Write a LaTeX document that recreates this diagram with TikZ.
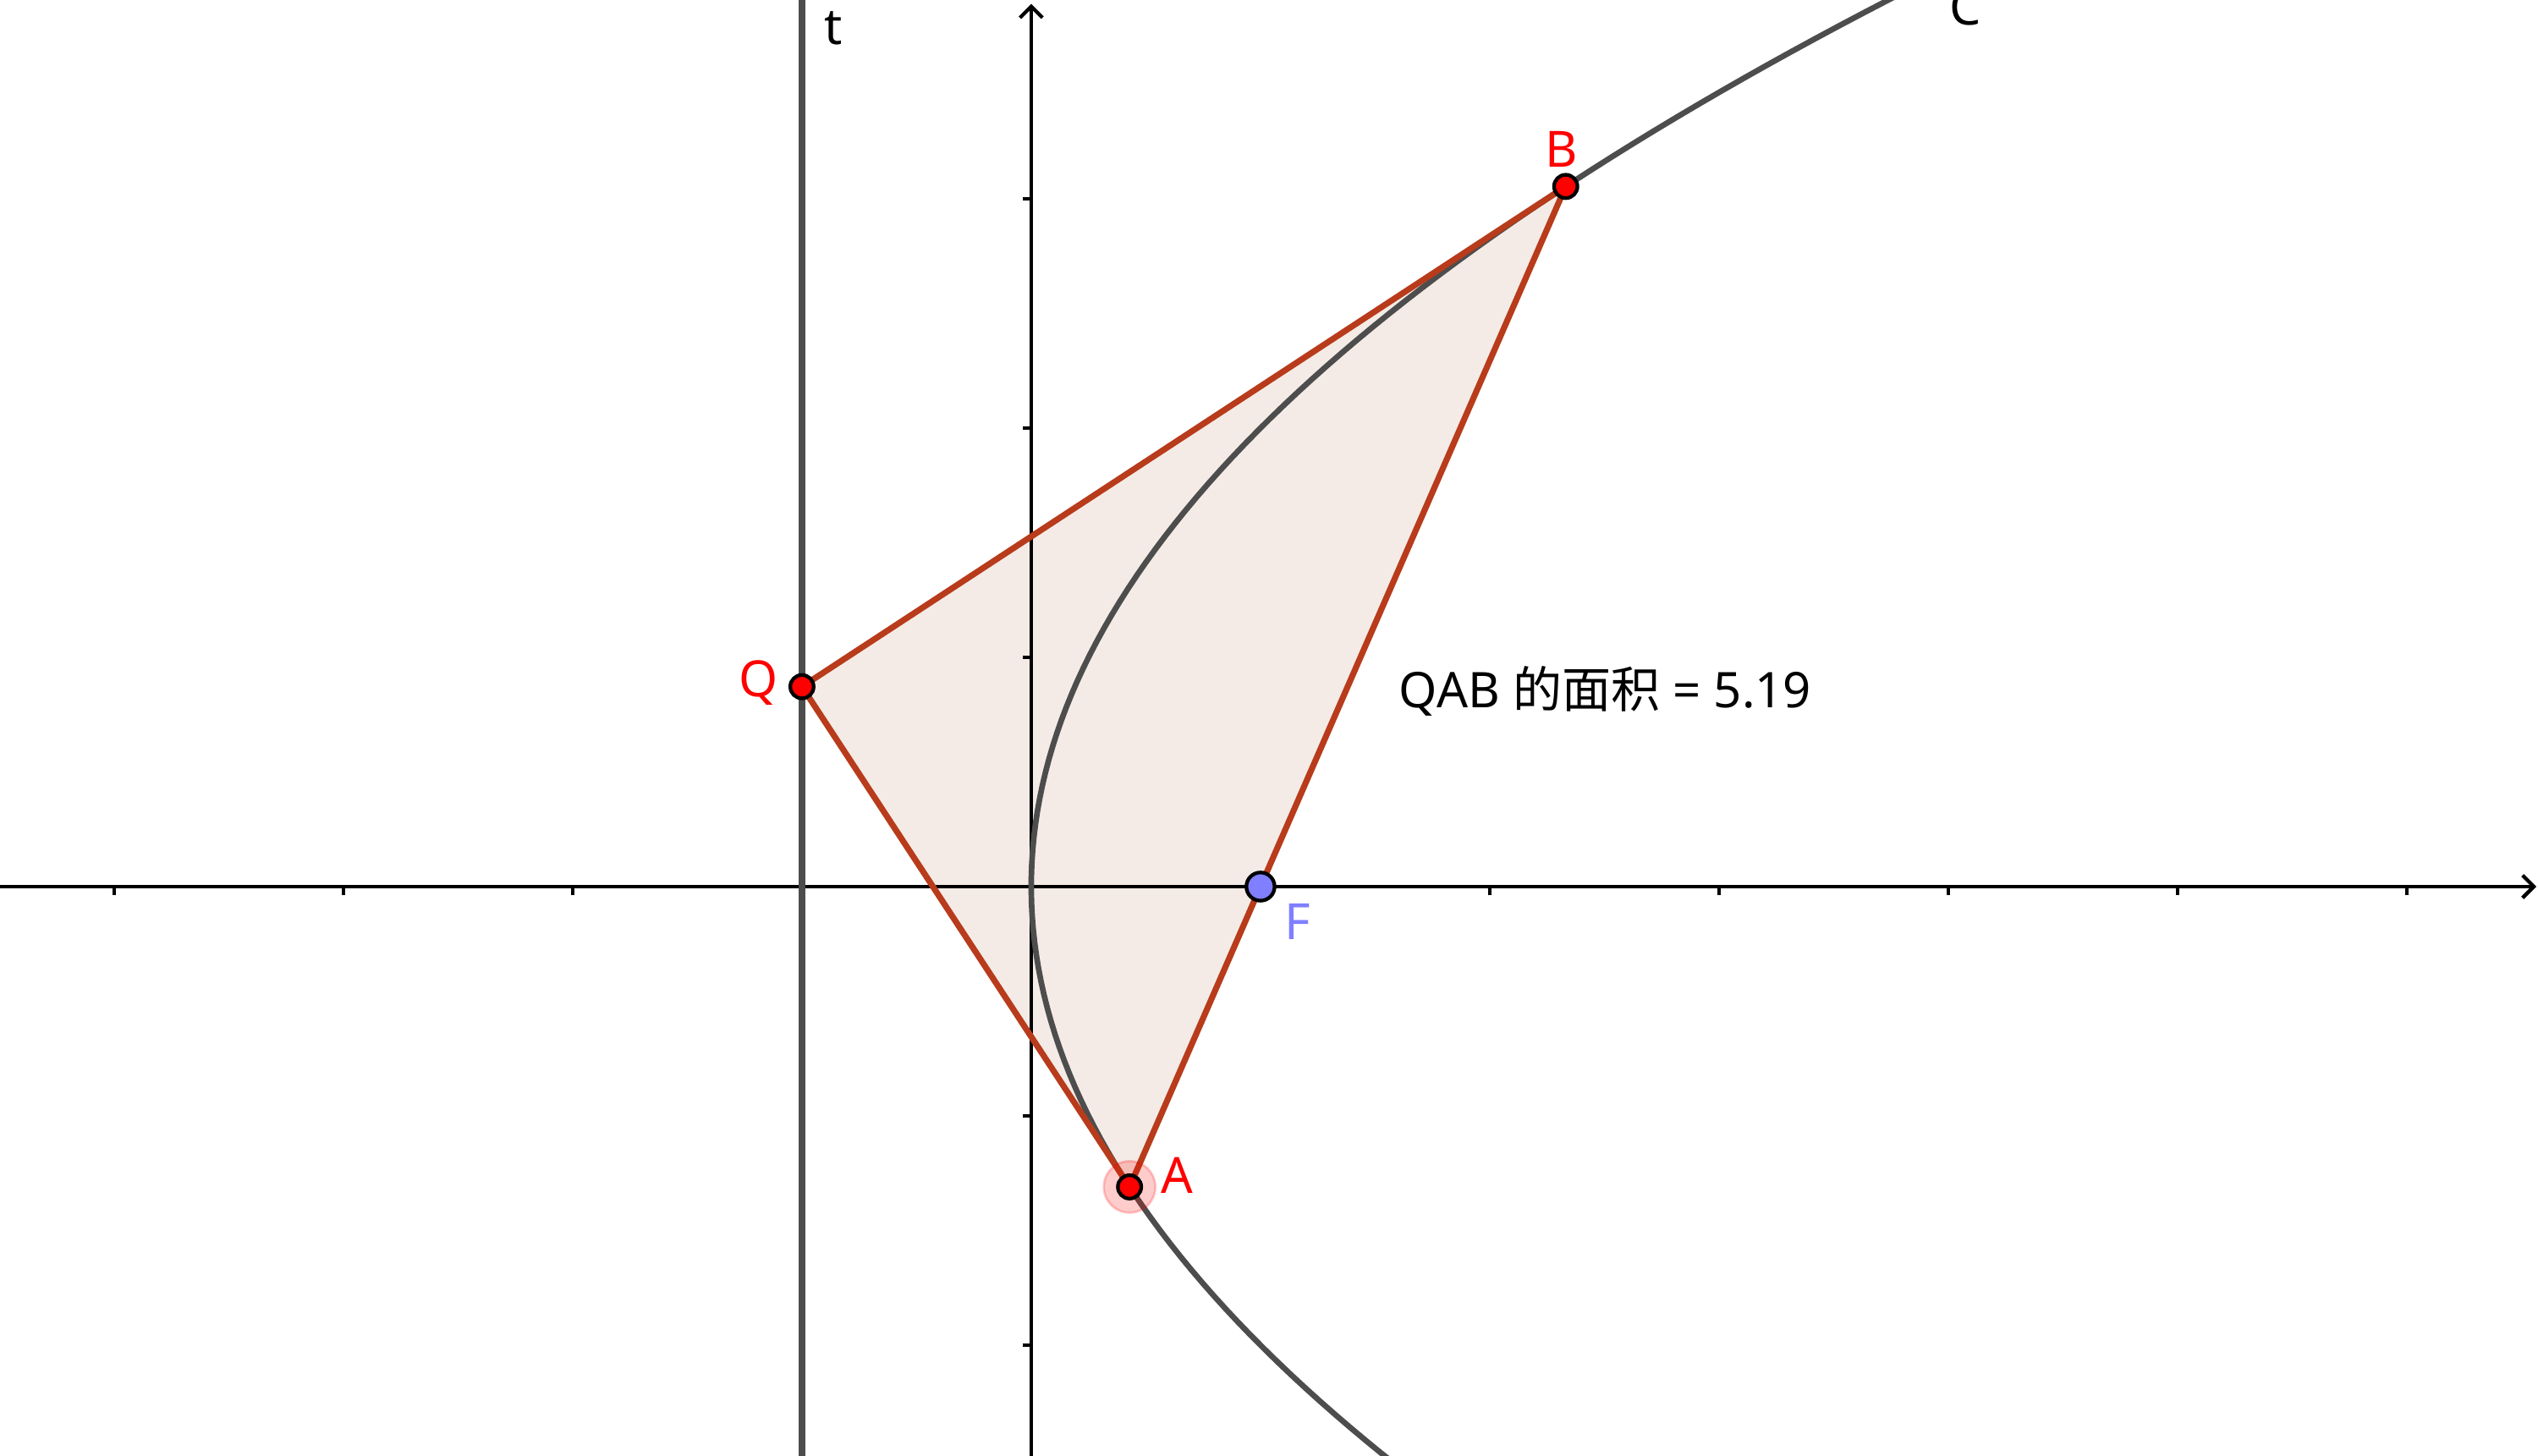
\documentclass[tikz,border=0pt]{standalone}
\usepackage{fontspec}
\setmainfont{Noto Sans}
\newfontfamily\cjk{Noto Sans CJK SC}
\usepackage{xcolor}
\usetikzlibrary{arrows.meta}

\definecolor{curvegray}{RGB}{77,77,77}
\definecolor{segred}{RGB}{184,59,27}
\definecolor{areafill}{RGB}{244,235,230}
\definecolor{focusblue}{RGB}{127,127,255}

\begin{document}
\begin{tikzpicture}[>={Straight Barb[length=1.4pt,width=2.8pt,line width=0.45pt]},
  lbl/.style={font=\fontsize{6.2}{7.5}\selectfont, inner sep=0pt, anchor=base west},
  redpt/.style={fill=red, draw=black, line width=0.45pt}]

% Frame
\clip (-4.498,-2.483) rectangle (6.572,3.867);

% Points on the focal chord (area = (b+1/b)^3/2 = 5.19)
\coordinate (A) at (0.4289,-1.3098);
\coordinate (B) at (2.3314,3.0538);
\coordinate (Q) at (-1,0.872);
\coordinate (F) at (1,0);

% Triangle area
\fill[areafill] (Q) -- (A) -- (B) -- cycle;

% Axes
\draw[->, line width=0.35pt] (-4.6,0) -- (6.565,0);
\draw[->, line width=0.35pt] (0,-2.6) -- (0,3.85);
\foreach \x in {-4,-3,-2,-1,1,2,3,4,5,6}
  \draw[line width=0.35pt] (\x,0) -- (\x,-0.037);
\foreach \y in {-2,-1,1,2,3}
  \draw[line width=0.35pt] (0,\y) -- (-0.037,\y);

% Directrix t
\draw[curvegray, line width=0.85pt] (-1,-2.6) -- (-1,4);
\node[lbl] (labt) at (-0.908,3.672) {t};

% Parabola C
\draw[curvegray, line width=0.7pt, domain=-2.7:4.1, samples=120, variable=\s]
  plot ({\s*\s/4}, \s);
\node[lbl] (labC) at (4.0,3.757) {C};

% Triangle sides
\draw[segred, line width=0.75pt, line join=round] (Q) -- (A) -- (B) -- cycle;

% Highlight of A
\filldraw[red, fill opacity=0.2, draw opacity=0.2, line width=0.3pt] (A) circle (3.2pt);

% Points
\filldraw[redpt] (A) circle (1.45pt);
\filldraw[redpt] (B) circle (1.45pt);
\filldraw[redpt] (Q) circle (1.45pt);
\filldraw[fill=focusblue, draw=black, line width=0.45pt] (F) circle (1.75pt);

% Point labels
\node[lbl, red] (labA) at (0.560,-1.336) {A};
\node[lbl, red] (labB) at (2.236,3.140) {B};
\node[lbl, red] (labQ) at (-1.280,0.830) {Q};
\node[lbl, focusblue] (labF) at (1.100,-0.229) {F};

% Area text
\node[lbl, font=\fontsize{6.1}{7.5}\selectfont] (area) at (1.598,0.779)
  {QAB {\cjk 的面积} = 5.19};

\end{tikzpicture}
\end{document}
